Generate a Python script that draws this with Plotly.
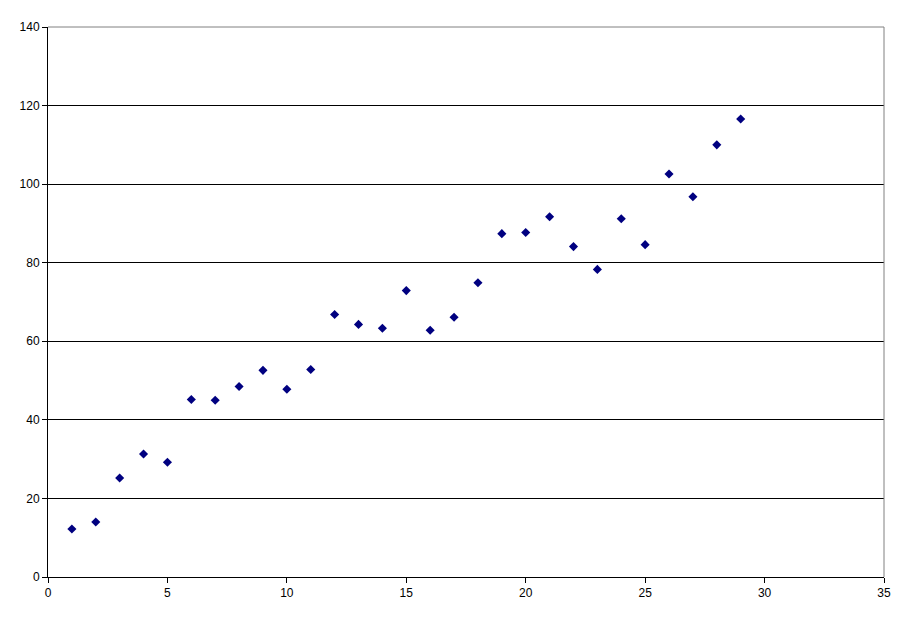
import plotly.graph_objects as go

x_vals = list(range(1, 30))
y_vals = [12.2, 14.0, 25.2, 31.3, 29.2, 45.2, 45.0, 48.5, 52.6, 47.8,
          52.8, 66.8, 64.3, 63.3, 72.9, 62.8, 66.1, 74.9, 87.4, 87.7,
          91.7, 84.1, 78.3, 91.2, 84.6, 102.6, 96.8, 110.0, 116.6]

x_ticks = [0, 5, 10, 15, 20, 25, 30, 35]
y_ticks = [0, 20, 40, 60, 80, 100, 120, 140]

data = [go.Scatter(
    x=x_vals,
    y=y_vals,
    mode='markers',
    marker={'symbol': 'diamond', 'size': 7, 'color': '#000080'},
    showlegend=False
)]

# the page body adds an 8px offset, margins are set so the plot area lands where it should
layout = go.Layout(
    width=895,
    height=604,
    paper_bgcolor='white',
    plot_bgcolor='white',
    margin=go.layout.Margin(l=40, r=12, t=18, b=30, pad=0),
    font={'family': 'Liberation Sans, Arial, sans-serif', 'size': 12, 'color': 'black'},
    xaxis={
        'range': [0, 35],
        'tickvals': x_ticks,
        'showgrid': False,
        'zeroline': False,
        'showline': True,
        'linecolor': 'black',
        'linewidth': 1,
        'ticks': 'outside',
        'ticklen': 5,
        'tickcolor': 'black',
        'fixedrange': True,
    },
    yaxis={
        'range': [0, 140],
        'tickvals': y_ticks,
        'showgrid': True,
        'gridcolor': 'black',
        'gridwidth': 1,
        'zeroline': False,
        'showline': True,
        'linecolor': 'black',
        'linewidth': 1,
        'ticks': 'outside',
        'ticklen': 5,
        'tickcolor': 'black',
        'fixedrange': True,
    },
    shapes=[
        # grey frame on top and right, like the Excel plot area border
        dict(type='line', xref='paper', yref='paper', x0=0, x1=1, y0=1, y1=1,
             line={'color': 'gray', 'width': 1}, layer='above'),
        dict(type='line', xref='paper', yref='paper', x0=1, x1=1, y0=0, y1=1,
             line={'color': 'gray', 'width': 1}, layer='above'),
    ]
)

fig = go.Figure(data=data, layout=layout)
fig.write_html("out.html")
